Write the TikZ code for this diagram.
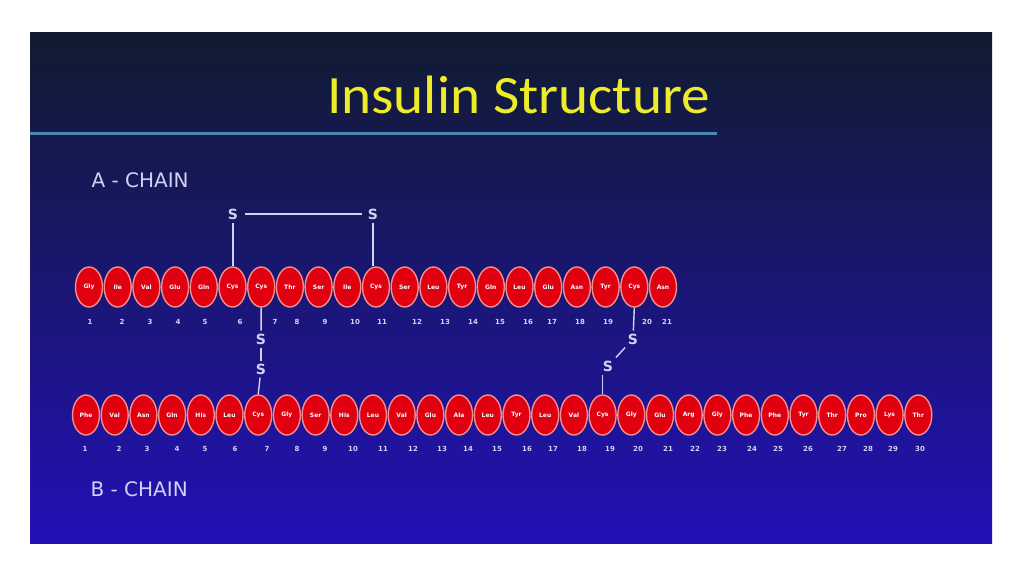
\documentclass[tikz,border=0pt]{standalone}
\usepackage{fontspec}
\setmainfont{DejaVu Sans}
\newfontfamily\titlefont{Carlito}
\usetikzlibrary{shapes.geometric}
\definecolor{slidetop}{HTML}{111B31}
\definecolor{slidemid}{HTML}{18196A}
\definecolor{slidebot}{HTML}{2311B6}
\definecolor{titleyellow}{HTML}{ECEC2A}
\definecolor{ruleblue}{HTML}{4A88B0}
\definecolor{beadred}{HTML}{E0000F}
\definecolor{beadrim}{HTML}{F29090}
\definecolor{paletext}{HTML}{D2D2F4}

\begin{document}
\begin{tikzpicture}[x=1pt,y=-1pt,
    amino/.style={ellipse,fill=beadred,draw=beadrim,line width=1.4pt,
      minimum width=27pt,minimum height=40pt,inner sep=0pt,
      text=white,font=\fontsize{6}{6}\selectfont\bfseries},
    resnum/.style={text=paletext,font=\fontsize{7}{8}\selectfont\bfseries},
    sulfur/.style={text=paletext,inner sep=3pt,font=\fontsize{14}{14}\selectfont\bfseries},
    bond/.style={draw=paletext,line width=1.4pt},
    chainlabel/.style={anchor=base west,text=paletext,font=\fontsize{20}{20}\selectfont}]
  \useasboundingbox (0,0) rectangle (1024,574);
  \fill[white] (0,0) rectangle (1024,574);
  % slide background
  \shade[top color=slidetop,middle color=slidemid,bottom color=slidebot]
    (30,32) rectangle (992,543);
  \node[anchor=base,xscale=1.06,text=titleyellow,font=\titlefont\fontsize{54}{54}\selectfont]
    (title) at (518.5,113) {Insulin Structure};
  \draw[ruleblue,line width=3pt] (30,133) -- (717,133);
  \node[chainlabel] (alabel) at (88,187) {A - CHAIN};
  \node[chainlabel] (blabel) at (87,496) {B - CHAIN};
  % A chain
  \foreach \r [count=\i] in {Gly,Ile,Val,Glu,Gln,Cys,Cys,Thr,Ser,Ile,Cys,
      Ser,Leu,Tyr,Gln,Leu,Glu,Asn,Tyr,Cys,Asn}
    \node[amino] (a\i) at ({89+(\i-1)*28.7},287) {\r};
  \foreach \n/\x in {1/90,2/122,3/150,4/178,5/205,6/240,7/275,8/297,9/325,
      10/355,11/382,12/417,13/445,14/473,15/500,16/528,17/552,18/580,
      19/608,20/647,21/667}
    \node[resnum] (na\n) at (\x,322) {\n};
  % B chain
  \foreach \r [count=\i] in {Phe,Val,Asn,Gln,His,Leu,Cys,Gly,Ser,His,Leu,
      Val,Glu,Ala,Leu,Tyr,Leu,Val,Cys,Gly,Glu,Arg,Gly,Phe,Phe,Tyr,Thr,
      Pro,Lys,Thr}
    \node[amino] (b\i) at ({86+(\i-1)*28.7},415) {\r};
  \foreach \n/\x in {1/85,2/119,3/147,4/177,5/205,6/235,7/267,8/297,9/325,
      10/353,11/383,12/413,13/442,14/468,15/497,16/527,17/553,18/582,
      19/610,20/638,21/668,22/695,23/722,24/752,25/778,26/808,27/842,
      28/868,29/893,30/920}
    \node[resnum] (nb\n) at (\x,449) {\n};
  % disulfide bridges
  \node[sulfur] (s1) at (233,214) {S};
  \node[sulfur] (s2) at (373,214) {S};
  \draw[bond,shorten <=4pt,shorten >=3pt] (s1) -- (s2);
  \draw[bond] (s1.south) -- (s1.south |- a6.north);
  \draw[bond] (s2.south) -- (s2.south |- a11.north);
  \node[sulfur] (s3) at (261,339) {S};
  \node[sulfur] (s4) at (261,369) {S};
  \draw[bond] (a7.south) -- (s3);
  \draw[bond] (s3) -- (s4);
  \draw[bond] (s4) -- (b7.north);
  \node[sulfur] (s5) at (633,339) {S};
  \node[sulfur] (s6) at (608,366) {S};
  \draw[bond] (a20.south) -- (s5);
  \draw[bond] (s5) -- (s6);
  \draw[bond] (b19.north) -- (b19.north |- s6.south);
\end{tikzpicture}
\end{document}
